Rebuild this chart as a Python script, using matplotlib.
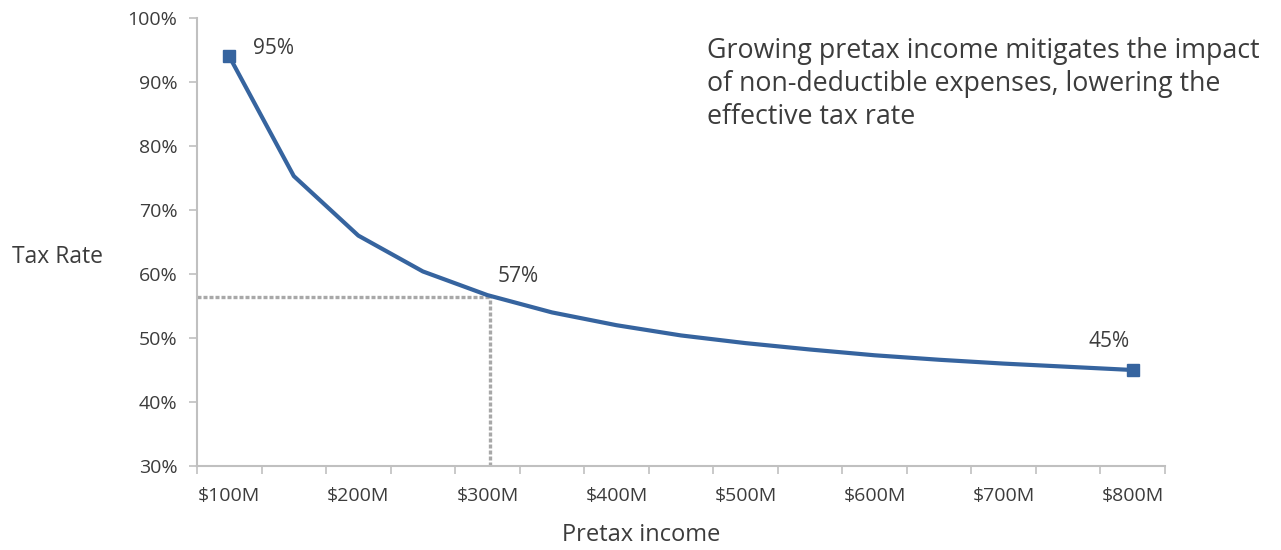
import matplotlib
matplotlib.use("Agg")
import matplotlib.pyplot as plt
from matplotlib.ticker import FixedLocator, FuncFormatter

plt.rcParams['font.family'] = ['Open Sans', 'DejaVu Sans']

# Data
income = [100, 150, 200, 250, 300, 350, 400, 450, 500, 550, 600, 650, 700, 750, 800]  # $M
tax_rate = [94.0, 75.3, 66.0, 60.4, 56.7, 54.0, 52.0, 50.4, 49.2, 48.2, 47.3, 46.6, 46.0, 45.5, 45.0]
label_points = [(100, "95%"), (300, "57%"), (800, "45%")]
tick_labels = ["$100M", "$200M", "$300M", "$400M", "$500M", "$600M", "$700M", "$800M"]
highlight_x = 302
highlight_y = 56.4

TXT = '#3c3c3c'
BLUE = '#36649f'
GRID = '#c0c0c0'

fig = plt.figure(figsize=(12.81, 5.5), dpi=100)
ax = fig.add_axes([197/1281, 1-466/550, (1165-197)/1281, (466-18)/550])

ax.plot(income, tax_rate, color=BLUE, lw=3.0, solid_joinstyle='round', zorder=3)
ax.plot([income[0], income[-1]], [tax_rate[0], tax_rate[-1]], ls='none', marker='s',
        ms=8, color=BLUE, zorder=4)

# dotted guide lines
ax.plot([75, highlight_x], [highlight_y, highlight_y], color='#a8a8a8', lw=2.4,
        ls=(0, (1.2, 0.6)), zorder=2)
ax.plot([highlight_x, highlight_x], [30, highlight_y], color='#a8a8a8', lw=2.4,
        ls=(0, (1.2, 0.6)), zorder=2)

ax.set_xlim(75, 825)
ax.set_ylim(30, 100)

# x axis: category boundaries as ticks, labels at every other category
ax.xaxis.set_major_locator(FixedLocator([100, 200, 300, 400, 500, 600, 700, 800]))
ax.set_xticklabels(tick_labels)
ax.xaxis.set_minor_locator(FixedLocator([75 + 50*k for k in range(16)]))
ax.tick_params(axis='x', which='major', length=0, pad=15, labelsize=14, labelcolor=TXT)
ax.tick_params(axis='x', which='minor', length=6, width=1.2, color=GRID, direction='out')

ax.set_yticks(range(30, 101, 10))
ax.yaxis.set_major_formatter(FuncFormatter(lambda v, p: f"{int(v)}%"))
ax.tick_params(axis='y', length=6, width=1.2, color=GRID, labelsize=14, labelcolor=TXT, pad=8)

for s in ['top', 'right']:
    ax.spines[s].set_visible(False)
for s in ['left', 'bottom']:
    ax.spines[s].set_color(GRID)
    ax.spines[s].set_linewidth(1.5)

# data labels
offsets = {100: (17.3, 5.8), 300: (7.2, 13.7), 800: (-31.7, 20.2)}
for xv, lab in label_points:
    yv = tax_rate[income.index(xv)]
    ax.annotate(lab, (xv, yv), xytext=offsets[xv], textcoords='offset points',
                fontsize=15, color=TXT, ha='left', va='center')

fig.text(12/1281, 1-257/550, "Tax Rate", fontsize=16.5, color=TXT, ha='left', va='center')
fig.text(641/1281, 1-535/550, "Pretax income", fontsize=17, color=TXT, ha='center', va='center')
fig.text(707/1281, 1-37/550,
         "Growing pretax income mitigates the impact\nof non-deductible expenses, lowering the\neffective tax rate",
         fontsize=19.3, color=TXT, ha='left', va='top', linespacing=1.25)

fig.savefig("out.png", dpi=100)
